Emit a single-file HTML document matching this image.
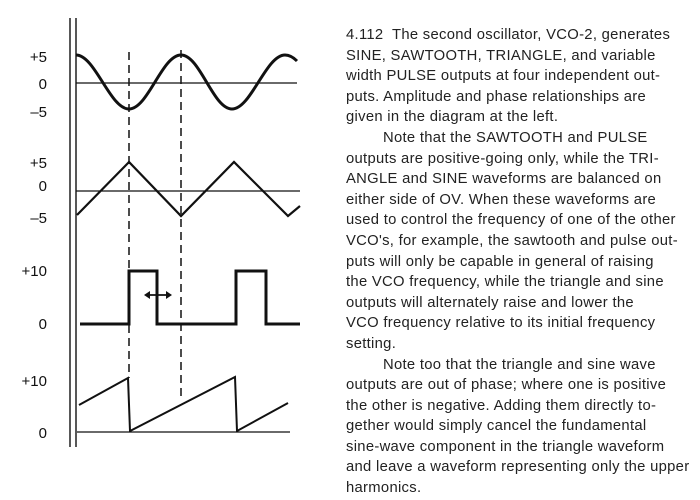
<!DOCTYPE html>
<html><head><meta charset="utf-8"><style>
body{margin:0;background:#fff;width:700px;height:500px;overflow:hidden;position:relative}
svg{position:absolute;left:0;top:0}
.t{position:absolute;left:346px;width:354px;font-family:"Liberation Sans",sans-serif;font-size:14.8px;letter-spacing:0.3px;color:#222;line-height:20.6px;white-space:nowrap}
.t div{height:20.6px}
.t div.i{padding-left:37px}
</style></head><body>
<svg width="700" height="500" viewBox="0 0 700 500">
<g stroke="#111" fill="none">
<line x1="70" y1="18" x2="70" y2="447" stroke-width="1.4"/>
<line x1="76" y1="18" x2="76" y2="447" stroke-width="1.4"/>
<line x1="76" y1="83" x2="297" y2="83" stroke-width="1.2"/>
<line x1="76" y1="191" x2="300" y2="191" stroke-width="1.3"/>
<line x1="77" y1="432" x2="290" y2="432" stroke-width="1.3"/>
<path d="M76,55 C95,55 110,109 129,109 C148,109 162,55 181,55 C200,55 213,109 232,109 C251,109 266,55 285,55 C290,55 294,58 297,61" stroke-width="3"/>
<polyline points="77,215 129,162 181,216 234,162 288,216 300,206" stroke-width="2.2"/>
<polyline points="80,324 129,324 129,271 157,271 157,324 236,324 236,271 266,271 266,324 300,324" stroke-width="3"/>
<polyline points="79,405 128,378 130,431 235,377 237,431 288,403" stroke-width="2"/>
<line x1="129" y1="52" x2="129" y2="378" stroke-width="1.5" stroke-dasharray="8,5"/>
<line x1="181" y1="50" x2="181" y2="398" stroke-width="1.5" stroke-dasharray="8,5"/>
<line x1="147" y1="295" x2="169" y2="295" stroke-width="1.8"/>
</g>
<polygon points="144,295 150,291 150,299" fill="#111"/>
<polygon points="172,295 166,291 166,299" fill="#111"/>
<g font-family="Liberation Sans,sans-serif" font-size="15" fill="#111" text-anchor="end">
<text x="47" y="62">+5</text><text x="47" y="89">0</text><text x="47" y="117">–5</text>
<text x="47" y="168">+5</text><text x="47" y="191">0</text><text x="47" y="223">–5</text>
<text x="47" y="276">+10</text><text x="47" y="329">0</text>
<text x="47" y="386">+10</text><text x="47" y="438">0</text>
</g>
</svg>
<div class="t" style="top:25px">
<div>4.112&nbsp; The second oscillator, VCO-2, generates</div>
<div>SINE, SAWTOOTH, TRIANGLE, and variable</div>
<div>width PULSE outputs at four independent out-</div>
<div>puts. Amplitude and phase relationships are</div>
<div>given in the diagram at the left.</div>
<div class="i">Note that the SAWTOOTH and PULSE</div>
<div>outputs are positive-going only, while the TRI-</div>
<div>ANGLE and SINE waveforms are balanced on</div>
<div>either side of OV. When these waveforms are</div>
<div>used to control the frequency of one of the other</div>
<div>VCO's, for example, the sawtooth and pulse out-</div>
<div>puts will only be capable in general of raising</div>
<div>the VCO frequency, while the triangle and sine</div>
<div>outputs will alternately raise and lower the</div>
<div>VCO frequency relative to its initial frequency</div>
<div>setting.</div>
<div class="i">Note too that the triangle and sine wave</div>
<div>outputs are out of phase; where one is positive</div>
<div>the other is negative. Adding them directly to-</div>
<div>gether would simply cancel the fundamental</div>
<div>sine-wave component in the triangle waveform</div>
<div>and leave a waveform representing only the upper</div>
<div>harmonics.</div>
</div>
</body></html>
